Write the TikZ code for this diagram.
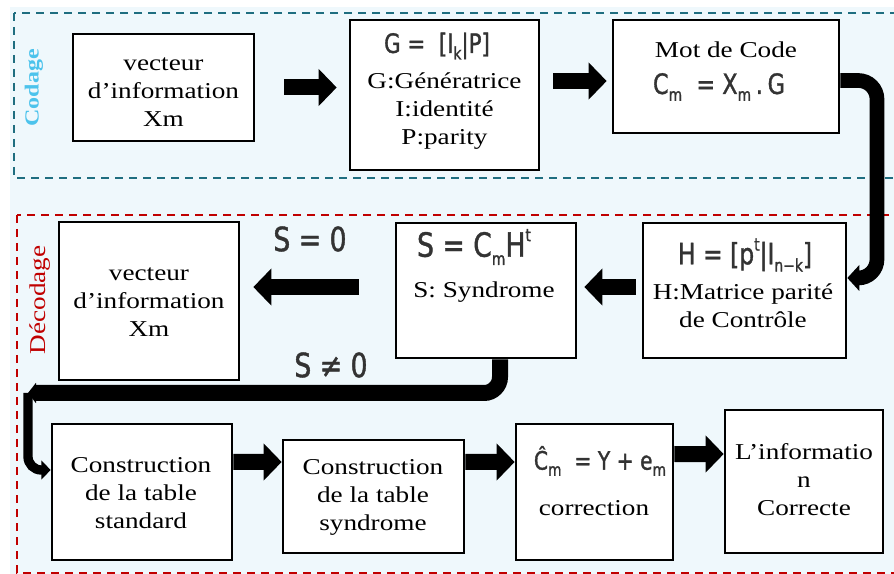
\documentclass[tikz,border=0pt]{standalone}
\usepackage{fontspec}
\setmainfont[FakeStretch=1.2]{Liberation Serif}
\newfontfamily\eqf[FakeStretch=0.8,FakeBold=1.2]{DejaVu Sans}
\usetikzlibrary{arrows.meta}
\definecolor{bgblue}{HTML}{EFF8FC}
\definecolor{codeteal}{HTML}{1F6E80}
\definecolor{codecyan}{HTML}{4CC3EC}
\definecolor{decred}{HTML}{C00000}
\definecolor{eqgray}{HTML}{333333}
% sub- and superscripts inside the equation font
\newcommand\sbs[1]{\raisebox{-0.45ex}{\fontsize{13pt}{13pt}\selectfont #1}}
\newcommand\sps[1]{\raisebox{0.85ex}{\fontsize{13pt}{13pt}\selectfont #1}}
\newcommand\eqs[1]{\color{eqgray}\eqf\fontsize{#1}{#1}\selectfont}
\begin{document}
\begin{tikzpicture}[x=0.75pt,y=-0.75pt,
  box/.style={draw=black, line width=2pt, fill=white, inner sep=0pt},
  txt/.style={align=center, inner sep=0pt, font=\fontsize{17pt}{21pt}\selectfont},
  blk/.style={line width=12pt, -{Triangle[length=13.5pt,width=27pt]}},
  bigconn/.style={line width=11pt, rounded corners=14pt, -{Triangle[length=9pt,width=19pt]}},
  midconn/.style={line width=12pt, rounded corners=12pt, -{Triangle[length=6pt,width=15pt]}},
  thinconn/.style={line width=7pt, rounded corners=10pt, -{Triangle[length=7pt,width=14pt]}},
  zone/.style={line width=1.5pt, dash pattern=on 6pt off 4.5pt},
  lbl/.style={inner sep=0pt, text=eqgray, font=\eqf\fontsize{25pt}{25pt}\selectfont}]
\useasboundingbox (0,0) rectangle (894,574);
\fill[bgblue] (10,7) rectangle (894,574);

% coding and decoding zones
\draw[zone, draw=codeteal] (14,13) rectangle (900,178);
\draw[zone, draw=decred] (17,215) rectangle (900,573);
\node[rotate=90, text=codecyan, inner sep=0pt, font=\bfseries\fontsize{15pt}{15pt}\selectfont] (zcod) at (34,88) {Codage};
\node[rotate=90, text=decred, inner sep=0pt, font=\fontsize{17pt}{17pt}\selectfont] (zdec) at (40,300) {Décodage};

% blocks
\node[box, minimum width=135.75pt, minimum height=80.25pt] (vin) at (163.5,87.5) {};
\node[box, minimum width=141.75pt, minimum height=112.5pt] (gen) at (444.5,95) {};
\node[box, minimum width=169.5pt, minimum height=84.75pt] (code) at (726,76.5) {};
\node[box, minimum width=152.25pt, minimum height=101.25pt] (hmat) at (744.5,290.5) {};
\node[box, minimum width=135pt, minimum height=101.25pt] (synd) at (486,290.5) {};
\node[box, minimum width=135pt, minimum height=118.5pt] (vout) at (149,301) {};
\node[box, minimum width=135pt, minimum height=102pt] (std) at (142,492) {};
\node[box, minimum width=135.75pt, minimum height=84.75pt] (tsyn) at (373.5,496.5) {};
\node[box, minimum width=117.75pt, minimum height=102pt] (corr) at (594.5,492) {};
\node[box, minimum width=118.5pt, minimum height=107.25pt] (out) at (804,481.5) {};

% block texts
\node[txt] (vin-t) at (163.5,92) {vecteur\\d’information\\Xm};
\node[txt] (gen-e) at (437,46) {\eqs{20pt}G =\ \ [I\sbs{k}|P]};
\node[txt] (gen-t) at (444.5,111) {G:Génératrice\\I:identité\\P:parity};
\node[txt] (code-t) at (726,50) {Mot de Code};
\node[txt] (code-e) at (719,87) {\eqs{21pt}C\sbs{m}\ \ = X\sbs{m}\,.\,G};
\node[txt] (hmat-e) at (745,255) {\eqs{22pt}H = [p\sps{t}|I\sbs{n−k}]};
\node[txt] (hmat-t) at (743,306) {H:Matrice parité\\de Contrôle};
\node[txt] (synd-e) at (474,247) {\eqs{25pt}S = C\sbs{m}H\sps{t}};
\node[txt] (synd-t) at (484,292) {S: Syndrome};
\node[txt] (vout-t) at (149,302) {vecteur\\d’information\\Xm};
\node[txt] (std-t) at (141,493) {Construction\\de la table\\standard};
\node[txt] (tsyn-t) at (373,497) {Construction\\de la table\\syndrome};
\node[txt] (corr-e) at (600,461) {\eqs{19pt}Ĉ\sbs{m}\ \ = Y + e\sbs{m}};
\node[txt] (corr-t) at (594,508) {correction};
\node[txt] (out-t) at (804,480) {L’informatio\\n\\Correcte};

% branch labels
\node[lbl] (s0) at (310,239) {S = 0};
\node[lbl] (sn) at (331,365) {S ≠ 0};

% flow arrows
\draw[blk, shorten <=21.75pt, shorten >=9pt] (vin.east) -- (vin.east -| gen.west);
\draw[blk, shorten <=9.75pt, shorten >=3.75pt] ([yshift=-3.4pt]code.west -| gen.east) -- ([yshift=-3.4pt]code.west);
\draw[blk, shorten <=4.5pt, shorten >=5.25pt] ([yshift=2.6pt]hmat.west) -- ([yshift=2.6pt]hmat.west -| synd.east);
\draw[blk, shorten <=27pt, shorten >=9.75pt] ([yshift=2.6pt]synd.west) -- ([yshift=2.6pt]synd.west -| vout.east);
\draw[blk] ([yshift=22.5pt]std.east) -- ([yshift=25.9pt]tsyn.west);
\draw[blk] ([yshift=25.9pt]tsyn.east) -- ([yshift=22.5pt]corr.west);
\draw[blk] ([yshift=28.5pt]corr.east) -- ([yshift=20.6pt]out.west);

% codeword down to the parity-check block
\coordinate (turnH) at (877,278);
\draw[bigconn] ([yshift=-3pt]code.east) -| (turnH) -- ([yshift=9.4pt]hmat.east);

% non-zero syndrome path to the standard table
\coordinate (turnS) at (28,393);
\draw[midconn] ([xshift=10.5pt]synd.south) |- (turnS);
\draw[thinconn] (turnS) |- ([yshift=16.5pt]std.west);
\end{tikzpicture}
\end{document}
